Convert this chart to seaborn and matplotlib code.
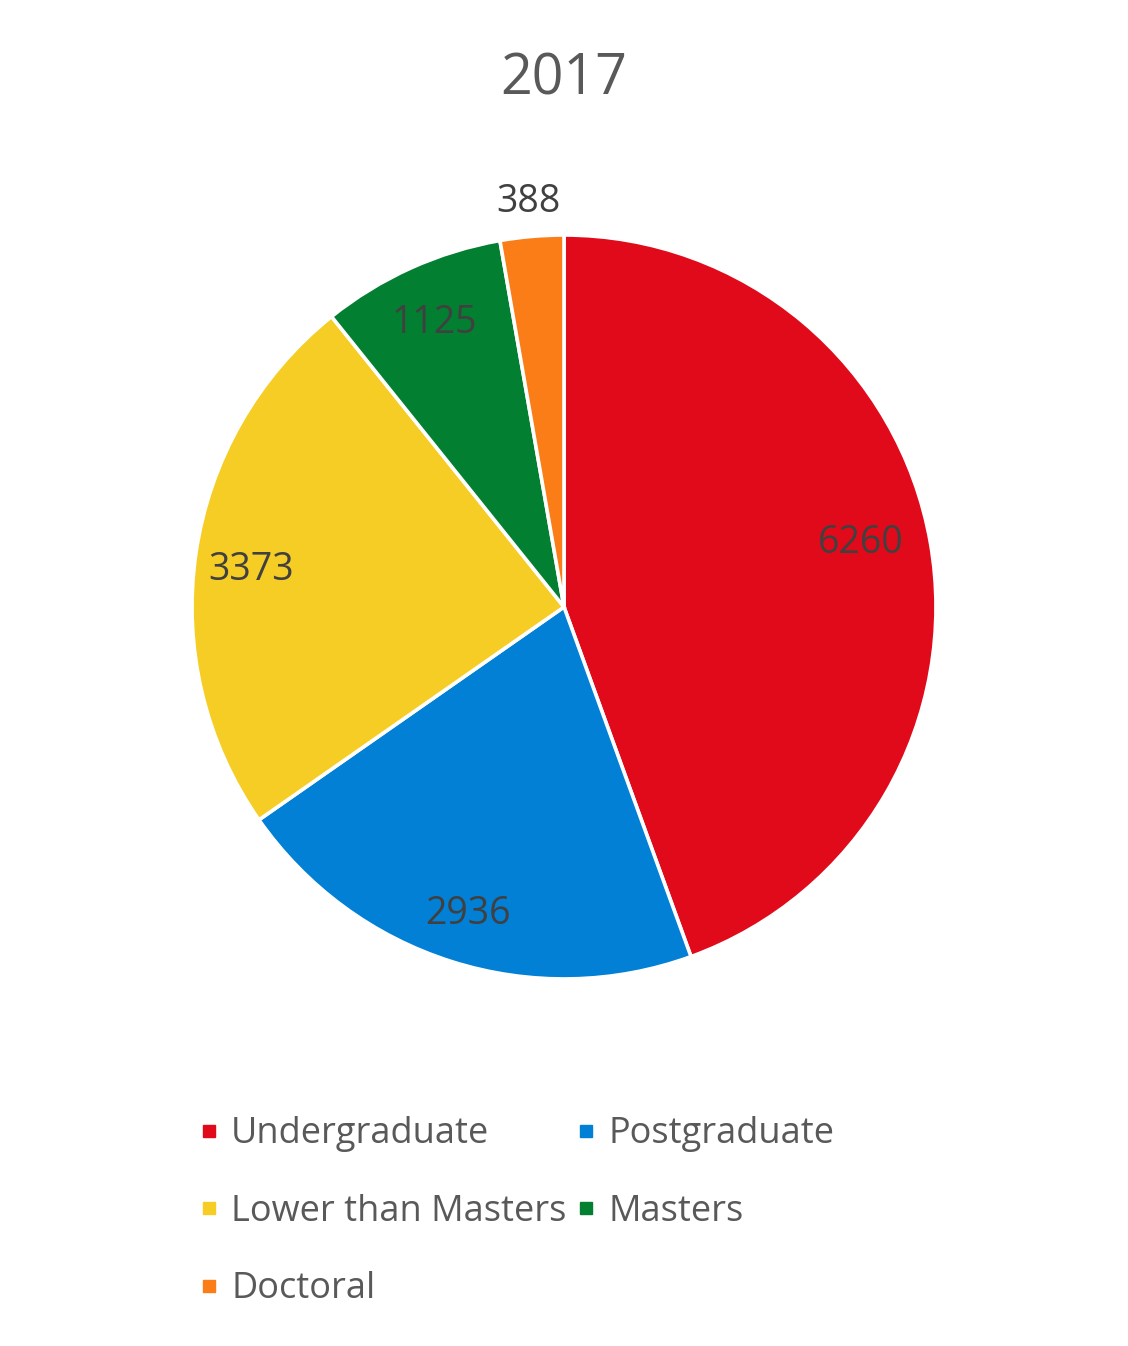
import matplotlib
matplotlib.use("Agg")
import matplotlib.pyplot as plt
from matplotlib.lines import Line2D
import numpy as np
import seaborn as sns

categories = ["Undergraduate", "Postgraduate", "Lower than Masters", "Masters", "Doctoral"]
values = [6260, 2936, 3373, 1125, 388]
colors = ["#E10A1A", "#0180D6", "#F5CD25", "#037F32", "#FB7D17"]
title = "2017"
label_dist = [0.81, 0.86, 0.85, 0.85, 1.10]
label_dy = [0.032, -0.005, -0.022, -0.011, -0.008]

sns.set_theme(style="white")
plt.rcParams["font.family"] = ["Open Sans", "DejaVu Sans"]

fig = plt.figure(figsize=(11.28, 13.46), dpi=100)
ax = fig.add_axes([0.1702, 0.2727, 0.6596, 0.5527])
wedges, _ = ax.pie(values, colors=colors, startangle=90, counterclock=False,
                   wedgeprops=dict(edgecolor="white", linewidth=2.6))
ax.set_xlim(-1, 1)
ax.set_ylim(-1, 1)
ax.set_aspect("equal")
ax.axis("off")

for w, v, d, dy in zip(wedges, values, label_dist, label_dy):
    ang = np.deg2rad((w.theta1 + w.theta2) / 2)
    ax.text(d * np.cos(ang), d * np.sin(ang) + dy, str(v), ha="center", va="center",
            fontsize=27, color="#404040")

fig.text(0.5, 1 - 80 / 1346, title, ha="center", va="center", fontsize=40, color="#595959")

order = [0, 2, 4, 1, 3]
handles = [Line2D([], [], marker="s", linestyle="none", markersize=8.6,
                  markerfacecolor=colors[i], markeredgecolor=colors[i]) for i in order]
labels = [categories[i] for i in order]
fig.legend(handles, labels, ncol=2, loc="upper left", bbox_to_anchor=(0.147, 0.1947),
           frameon=False, fontsize=26, labelcolor="#595959", handlelength=0.6,
           handletextpad=0.31, columnspacing=0.25, labelspacing=1.15)

fig.savefig("out.png", dpi=100, facecolor="white")
